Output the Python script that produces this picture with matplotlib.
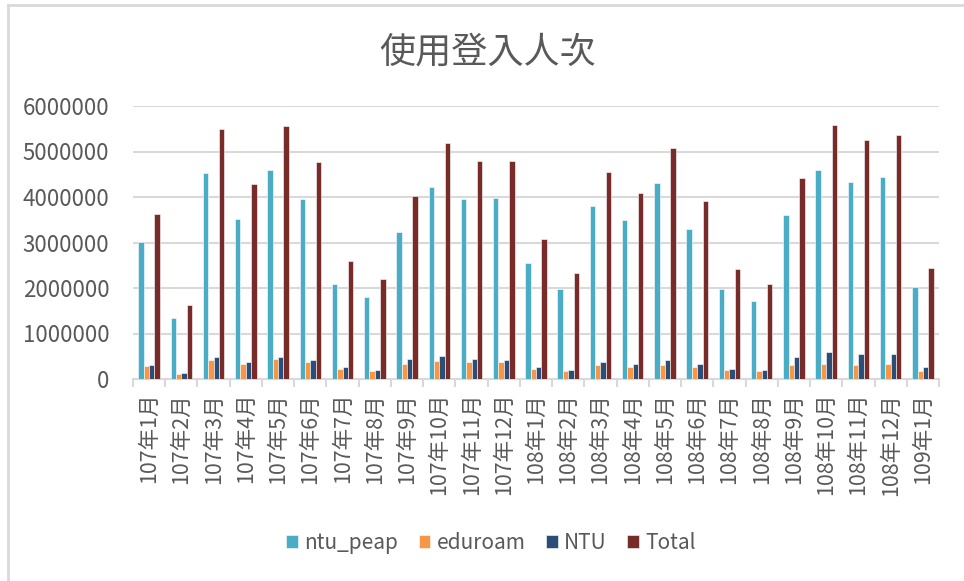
import numpy as np
import matplotlib
matplotlib.use("Agg")
import matplotlib.pyplot as plt
from matplotlib.lines import Line2D

plt.rcParams['font.family'] = ['Noto Sans CJK TC', 'DejaVu Sans']

# data
months = ['107年1月', '107年2月', '107年3月', '107年4月', '107年5月', '107年6月',
          '107年7月', '107年8月', '107年9月', '107年10月', '107年11月', '107年12月',
          '108年1月', '108年2月', '108年3月', '108年4月', '108年5月', '108年6月',
          '108年7月', '108年8月', '108年9月', '108年10月', '108年11月', '108年12月',
          '109年1月']
ntu_peap = [3010000, 1350000, 4530000, 3520000, 4590000, 3950000, 2090000, 1800000, 3240000,
            4230000, 3950000, 3980000, 2560000, 1970000, 3810000, 3490000, 4310000, 3300000,
            1970000, 1710000, 3600000, 4590000, 4340000, 4450000, 2030000]
eduroam = [280000, 110000, 420000, 340000, 450000, 370000, 230000, 170000, 340000,
           400000, 370000, 370000, 230000, 170000, 310000, 260000, 310000, 260000,
           200000, 170000, 310000, 340000, 310000, 340000, 170000]
ntu = [315000, 140000, 480000, 370000, 480000, 420000, 260000, 200000, 450000,
       510000, 450000, 420000, 260000, 200000, 370000, 340000, 420000, 340000,
       230000, 200000, 480000, 590000, 560000, 560000, 260000]
total = [3630000, 1630000, 5490000, 4290000, 5560000, 4770000, 2590000, 2200000, 4030000,
         5190000, 4790000, 4790000, 3080000, 2340000, 4540000, 4090000, 5080000, 3920000,
         2420000, 2090000, 4420000, 5590000, 5250000, 5360000, 2450000]

series = [('ntu_peap', ntu_peap, '#4BACC6'),
          ('eduroam', eduroam, '#F79646'),
          ('NTU', ntu, '#2C4D75'),
          ('Total', total, '#772C2A')]

gray = '#595959'
light = '#D9D9D9'

fig = plt.figure(figsize=(9.64, 5.81), dpi=100)
ax = fig.add_axes([133/964, 1-379/581, (939-133)/964, (379-106)/581])

x = np.arange(len(months))
w = 1 / 6.0
for i, (name, vals, col) in enumerate(series):
    ax.bar(x + (i - 1.5) * w, vals, width=w, color=col, label=name,
           edgecolor='white', linewidth=0.4, zorder=3)

ax.set_xlim(-0.5, len(months) - 0.5)
ax.set_ylim(0, 6000000)
ax.set_yticks(np.arange(0, 6000001, 1000000))
ax.set_yticklabels([str(v) for v in range(0, 6000001, 1000000)])
ax.grid(axis='y', color=light, linewidth=1.5, zorder=0)

ax.set_xticks(x)
ax.set_xticklabels(months, rotation=90, va='top')
ax.set_xticks(np.arange(-0.5, len(months)), minor=True)
ax.tick_params(axis='x', which='major', length=0, pad=10, labelsize=15.5, labelcolor=gray)
ax.tick_params(axis='x', which='minor', length=6, width=1.5, color=light)
ax.tick_params(axis='y', length=0, pad=17, labelsize=16, labelcolor=gray)

for s in ['top', 'right', 'left']:
    ax.spines[s].set_visible(False)
ax.spines['bottom'].set_color(light)
ax.spines['bottom'].set_linewidth(1.5)

fig.text(488/964, 1-52/581, '使用登入人次', ha='center', va='center', fontsize=26, color=gray)

fig.legend(loc='center', bbox_to_anchor=(491/964, 1-543/581), ncol=4, frameon=False,
           fontsize=15, labelcolor=gray, handlelength=0.55, handleheight=0.55,
           handletextpad=0.3, columnspacing=1.0)

# chart border (cut at right and bottom)
fig.add_artist(Line2D([8/964, 8/964], [0, 1-5/581], transform=fig.transFigure, color=light, linewidth=2))
fig.add_artist(Line2D([8/964, 1], [1-5/581, 1-5/581], transform=fig.transFigure, color=light, linewidth=2))

fig.savefig('out.png', dpi=100)
